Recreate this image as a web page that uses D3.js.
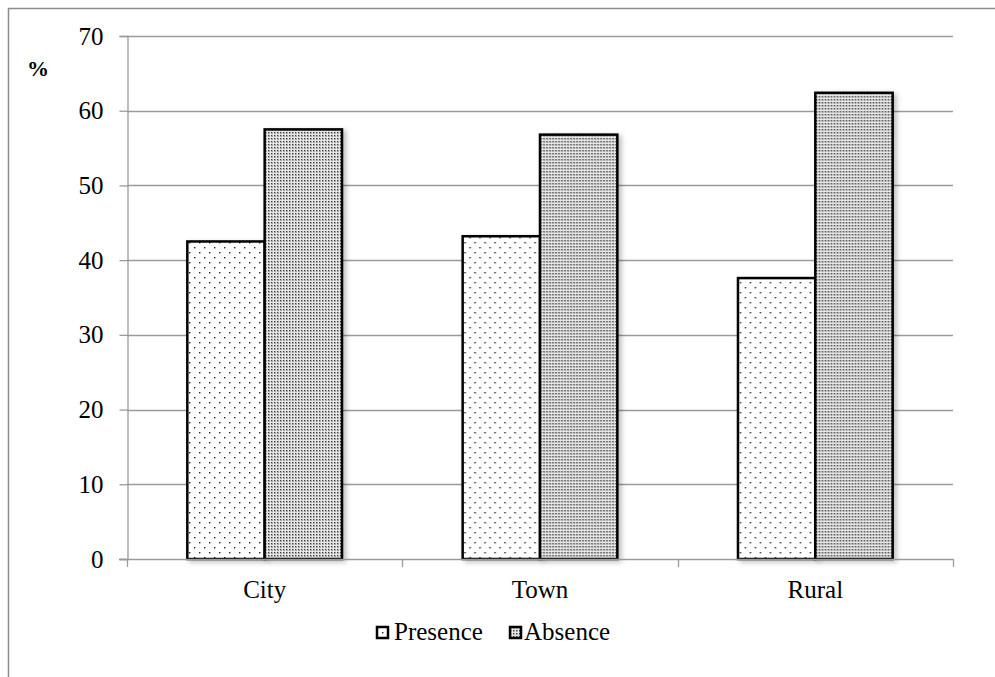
<!DOCTYPE html>
<html>
<head>
<meta charset="utf-8">
<script src="https://cdn.jsdelivr.net/npm/d3@7"></script>
<style>
  html, body { margin: 0; padding: 0; background: #fff; }
</style>
</head>
<body>
<svg id="chart" width="995" height="677"></svg>
<script>
// Share of respondents by area (%)
const categories = ["City", "Town", "Rural"];
const seriesNames = ["Presence", "Absence"];
const presence = [42.5, 43.2, 37.6];
const absence = [57.5, 56.8, 62.4];
const yTicks = [0, 10, 20, 30, 40, 50, 60, 70];

const svg = d3.select("#chart");
const W = 995, H = 677;
const margin = { left: 127, right: 42, top: 36, bottom: 118 };
const x0 = margin.left, x1 = W - margin.right;
const y0 = H - margin.bottom, y1 = margin.top;
const FONT = "Liberation Serif";

// Outer frame
svg.append("path")
  .attr("d", `M8.5,${H} V8.5 H${W}`)
  .attr("fill", "none").attr("stroke", "#8c8c8c").attr("stroke-width", 1.5);

// Fill patterns and shadow
const defs = svg.append("defs");
const pDots = defs.append("pattern").attr("id", "pat-presence")
  .attr("patternUnits", "userSpaceOnUse").attr("width", 10).attr("height", 10);
pDots.append("rect").attr("width", 10).attr("height", 10).attr("fill", "#fff");
pDots.append("rect").attr("x", 2).attr("y", 2).attr("width", 1.4).attr("height", 1.4).attr("fill", "#222");
pDots.append("rect").attr("x", 7).attr("y", 7).attr("width", 1.4).attr("height", 1.4).attr("fill", "#222");

const pGrid = defs.append("pattern").attr("id", "pat-absence")
  .attr("patternUnits", "userSpaceOnUse").attr("width", 3).attr("height", 3);
pGrid.append("rect").attr("width", 3).attr("height", 3).attr("fill", "#e6e6e6");
pGrid.append("rect").attr("width", 2).attr("height", 2).attr("fill", "#a6a6a6");
pGrid.append("rect").attr("width", 1).attr("height", 1).attr("fill", "#3c3c3c");

const shadow = defs.append("filter").attr("id", "shadow")
  .attr("x", "-20%").attr("y", "-5%").attr("width", "140%").attr("height", "110%");
shadow.append("feDropShadow").attr("dx", 3).attr("dy", 2).attr("stdDeviation", 2.5)
  .attr("flood-color", "#000").attr("flood-opacity", 0.25);

// Scales
const y = d3.scaleLinear().domain([0, 70]).range([y0, y1]);
const xBand = d3.scaleBand().domain(categories).range([x0, x1]).paddingInner(0).paddingOuter(0);
const xInner = d3.scaleBand().domain(seriesNames).range([0, xBand.bandwidth()]).paddingInner(0).paddingOuter(0.78);

// Gridlines
svg.append("g").selectAll("line").data(yTicks.filter(d => d > 0)).join("line")
  .attr("x1", x0).attr("x2", x1)
  .attr("y1", d => Math.round(y(d)) + 0.5).attr("y2", d => Math.round(y(d)) + 0.5)
  .attr("stroke", "#9a9a9a").attr("stroke-width", 1.3);

// Y axis
const yAxis = svg.append("g").attr("transform", `translate(${x0 + 0.5},0)`)
  .call(d3.axisLeft(y).tickValues(yTicks).tickSize(8).tickPadding(16));
yAxis.attr("font-family", FONT).attr("font-size", 25);
yAxis.select(".domain").attr("stroke", "#9a9a9a").attr("stroke-width", 1.3);
yAxis.selectAll(".tick line").attr("stroke", "#9a9a9a").attr("stroke-width", 1.3);
yAxis.selectAll(".tick text").attr("fill", "#000")
  .attr("font-family", FONT).attr("font-size", 25);

// Unit label
svg.append("text").attr("x", 38).attr("y", 76).attr("text-anchor", "middle")
  .attr("font-family", FONT).attr("font-size", 22).attr("font-weight", "bold").text("%");

// Bars
const rows = categories.map((c, i) => ({ cat: c, vals: [
  { key: "Presence", v: presence[i] },
  { key: "Absence", v: absence[i] }
]}));
const groups = svg.append("g").selectAll("g").data(rows).join("g")
  .attr("transform", d => `translate(${xBand(d.cat)},0)`);
groups.selectAll("rect").data(d => d.vals).join("rect")
  .attr("x", d => xInner(d.key))
  .attr("y", d => y(d.v))
  .attr("width", xInner.bandwidth())
  .attr("height", d => y0 - y(d.v))
  .attr("fill", d => d.key === "Presence" ? "url(#pat-presence)" : "url(#pat-absence)")
  .attr("stroke", "#000").attr("stroke-width", 2.5)
  .attr("filter", "url(#shadow)");

// X axis
const xAxis = svg.append("g").attr("transform", `translate(0,${Math.round(y0) + 0.5})`)
  .call(d3.axisBottom(xBand).tickSize(0).tickPadding(21));
xAxis.attr("font-family", FONT).attr("font-size", 25);
xAxis.select(".domain").attr("stroke", "#9a9a9a").attr("stroke-width", 1.3)
  .attr("d", `M${x0 - 8},0H${x1}`);
xAxis.selectAll(".tick text").attr("fill", "#000")
  .attr("font-family", FONT).attr("font-size", 25);
// Category boundary ticks
const bounds = categories.map(c => xBand(c)).concat([x1]);
svg.append("g").selectAll("line").data(bounds).join("line")
  .attr("x1", d => Math.round(d) + 0.5).attr("x2", d => Math.round(d) + 0.5)
  .attr("y1", y0).attr("y2", y0 + 8)
  .attr("stroke", "#9a9a9a").attr("stroke-width", 1.3);

// Legend
const legItems = [
  { key: "Presence", x: 376, tx: 394 },
  { key: "Absence", x: 509, tx: 524 }
];
const li = svg.append("g").selectAll("g").data(legItems).join("g");
li.append("rect").attr("x", d => d.x + 1).attr("y", 627).attr("width", 11).attr("height", 11)
  .attr("fill", d => d.key === "Presence" ? "url(#pat-presence)" : "url(#pat-absence)")
  .attr("stroke", "#000").attr("stroke-width", 2.5);
li.append("text").attr("x", d => d.tx).attr("y", 640)
  .attr("font-family", FONT).attr("font-size", 25).attr("fill", "#000").text(d => d.key);
</script>
</body>
</html>
